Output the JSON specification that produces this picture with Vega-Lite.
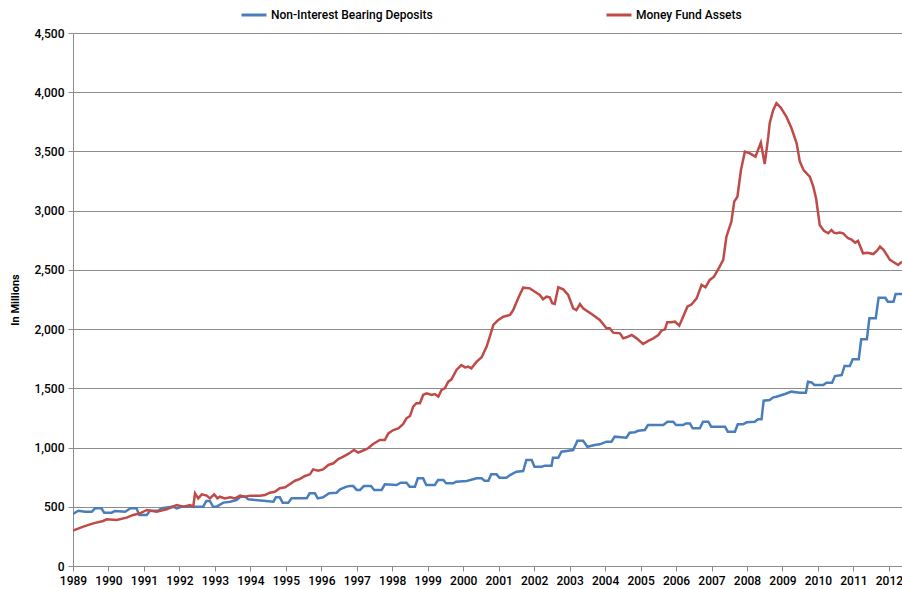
{
 "$schema": "https://vega.github.io/schema/vega-lite/v6.json",
 "width": 829, "height": 533,
 "autosize": {"type": "none"},
 "padding": {"left": 73, "top": 33, "right": 0, "bottom": 23},
 "background": "white",
 "config": {"view": {"stroke": null}},
 "datasets": {
  "deposits": [
   {"t":1989.00,"v":439},{"t":1989.15,"v":467},{"t":1989.34,"v":458},{"t":1989.53,"v":458},{"t":1989.62,"v":487},{"t":1989.80,"v":487},{"t":1989.88,"v":450},{"t":1990.09,"v":450},{"t":1990.18,"v":464},{"t":1990.47,"v":458},{"t":1990.62,"v":487},{"t":1990.79,"v":487},{"t":1990.87,"v":431},{"t":1991.08,"v":431},{"t":1991.17,"v":467},{"t":1991.40,"v":467},{"t":1991.50,"v":487},{"t":1991.83,"v":501},{"t":1991.92,"v":487},{"t":1992.08,"v":501},{"t":1992.67,"v":501},{"t":1992.76,"v":549},{"t":1992.86,"v":549},{"t":1992.95,"v":500},{"t":1993.05,"v":501},{"t":1993.24,"v":535},{"t":1993.43,"v":543},{"t":1993.61,"v":557},{"t":1993.72,"v":585},{"t":1993.86,"v":585},{"t":1993.94,"v":563},{"t":1994.13,"v":557},{"t":1994.36,"v":551},{"t":1994.65,"v":543},{"t":1994.72,"v":580},{"t":1994.83,"v":580},{"t":1994.91,"v":535},{"t":1995.07,"v":535},{"t":1995.16,"v":571},{"t":1995.59,"v":571},{"t":1995.67,"v":614},{"t":1995.82,"v":614},{"t":1995.90,"v":571},{"t":1996.05,"v":580},{"t":1996.22,"v":614},{"t":1996.43,"v":619},{"t":1996.53,"v":647},{"t":1996.71,"v":670},{"t":1996.81,"v":675},{"t":1996.90,"v":675},{"t":1997.00,"v":642},{"t":1997.09,"v":642},{"t":1997.20,"v":675},{"t":1997.40,"v":675},{"t":1997.49,"v":642},{"t":1997.70,"v":642},{"t":1997.79,"v":690},{"t":1998.12,"v":684},{"t":1998.24,"v":703},{"t":1998.40,"v":703},{"t":1998.49,"v":670},{"t":1998.64,"v":670},{"t":1998.72,"v":740},{"t":1998.87,"v":740},{"t":1998.96,"v":684},{"t":1999.20,"v":684},{"t":1999.29,"v":726},{"t":1999.44,"v":726},{"t":1999.52,"v":698},{"t":1999.72,"v":698},{"t":1999.80,"v":712},{"t":2000.10,"v":718},{"t":2000.38,"v":740},{"t":2000.52,"v":740},{"t":2000.60,"v":720},{"t":2000.71,"v":720},{"t":2000.79,"v":774},{"t":2000.94,"v":774},{"t":2001.02,"v":746},{"t":2001.22,"v":746},{"t":2001.32,"v":768},{"t":2001.50,"v":796},{"t":2001.69,"v":802},{"t":2001.78,"v":895},{"t":2001.93,"v":895},{"t":2002.01,"v":838},{"t":2002.21,"v":838},{"t":2002.30,"v":847},{"t":2002.49,"v":847},{"t":2002.53,"v":914},{"t":2002.68,"v":914},{"t":2002.77,"v":965},{"t":2003.10,"v":979},{"t":2003.22,"v":1058},{"t":2003.38,"v":1058},{"t":2003.50,"v":1007},{"t":2003.71,"v":1022},{"t":2003.85,"v":1027},{"t":2004.04,"v":1050},{"t":2004.18,"v":1050},{"t":2004.27,"v":1092},{"t":2004.60,"v":1083},{"t":2004.69,"v":1125},{"t":2004.84,"v":1130},{"t":2004.93,"v":1142},{"t":2005.12,"v":1148},{"t":2005.21,"v":1190},{"t":2005.64,"v":1190},{"t":2005.76,"v":1218},{"t":2005.92,"v":1218},{"t":2006.00,"v":1190},{"t":2006.20,"v":1190},{"t":2006.28,"v":1204},{"t":2006.39,"v":1204},{"t":2006.47,"v":1162},{"t":2006.67,"v":1162},{"t":2006.76,"v":1218},{"t":2006.91,"v":1218},{"t":2006.99,"v":1176},{"t":2007.38,"v":1176},{"t":2007.46,"v":1134},{"t":2007.66,"v":1134},{"t":2007.74,"v":1196},{"t":2007.89,"v":1196},{"t":2007.99,"v":1213},{"t":2008.22,"v":1218},{"t":2008.31,"v":1238},{"t":2008.41,"v":1238},{"t":2008.47,"v":1396},{"t":2008.64,"v":1401},{"t":2008.74,"v":1424},{"t":2008.83,"v":1429},{"t":2009.07,"v":1452},{"t":2009.25,"v":1472},{"t":2009.49,"v":1463},{"t":2009.66,"v":1463},{"t":2009.72,"v":1556},{"t":2009.82,"v":1550},{"t":2009.90,"v":1528},{"t":2010.15,"v":1528},{"t":2010.24,"v":1548},{"t":2010.40,"v":1548},{"t":2010.48,"v":1604},{"t":2010.67,"v":1612},{"t":2010.75,"v":1689},{"t":2010.90,"v":1689},{"t":2010.98,"v":1745},{"t":2011.15,"v":1745},{"t":2011.22,"v":1914},{"t":2011.38,"v":1914},{"t":2011.45,"v":2091},{"t":2011.63,"v":2091},{"t":2011.71,"v":2265},{"t":2011.90,"v":2265},{"t":2011.97,"v":2231},{"t":2012.13,"v":2231},{"t":2012.19,"v":2296},{"t":2012.37,"v":2296}
  ],
  "money": [
   {"t":1989.00,"v":300},{"t":1989.29,"v":332},{"t":1989.57,"v":360},{"t":1989.85,"v":380},{"t":1989.95,"v":394},{"t":1990.23,"v":388},{"t":1990.51,"v":408},{"t":1990.70,"v":431},{"t":1990.89,"v":445},{"t":1991.08,"v":473},{"t":1991.36,"v":458},{"t":1991.64,"v":478},{"t":1991.92,"v":515},{"t":1992.11,"v":501},{"t":1992.30,"v":515},{"t":1992.39,"v":501},{"t":1992.44,"v":614},{"t":1992.53,"v":571},{"t":1992.63,"v":605},{"t":1992.77,"v":594},{"t":1992.86,"v":571},{"t":1992.98,"v":605},{"t":1993.07,"v":571},{"t":1993.14,"v":585},{"t":1993.28,"v":571},{"t":1993.43,"v":580},{"t":1993.57,"v":571},{"t":1993.71,"v":594},{"t":1993.85,"v":585},{"t":1993.99,"v":594},{"t":1994.13,"v":594},{"t":1994.27,"v":594},{"t":1994.41,"v":599},{"t":1994.55,"v":619},{"t":1994.69,"v":627},{"t":1994.83,"v":656},{"t":1994.98,"v":664},{"t":1995.12,"v":692},{"t":1995.26,"v":720},{"t":1995.40,"v":735},{"t":1995.54,"v":760},{"t":1995.68,"v":774},{"t":1995.77,"v":816},{"t":1995.91,"v":805},{"t":1996.05,"v":816},{"t":1996.20,"v":853},{"t":1996.34,"v":867},{"t":1996.48,"v":903},{"t":1996.62,"v":923},{"t":1996.76,"v":946},{"t":1996.92,"v":979},{"t":1997.04,"v":957},{"t":1997.18,"v":975},{"t":1997.32,"v":994},{"t":1997.46,"v":1030},{"t":1997.65,"v":1064},{"t":1997.79,"v":1064},{"t":1997.89,"v":1120},{"t":1998.03,"v":1148},{"t":1998.17,"v":1162},{"t":1998.31,"v":1199},{"t":1998.40,"v":1247},{"t":1998.50,"v":1266},{"t":1998.59,"v":1345},{"t":1998.68,"v":1374},{"t":1998.78,"v":1374},{"t":1998.87,"v":1444},{"t":1998.97,"v":1458},{"t":1999.11,"v":1444},{"t":1999.20,"v":1452},{"t":1999.30,"v":1430},{"t":1999.39,"v":1486},{"t":1999.48,"v":1500},{"t":1999.58,"v":1556},{"t":1999.67,"v":1576},{"t":1999.81,"v":1655},{"t":1999.95,"v":1697},{"t":2000.05,"v":1677},{"t":2000.14,"v":1683},{"t":2000.23,"v":1669},{"t":2000.38,"v":1725},{"t":2000.52,"v":1762},{"t":2000.66,"v":1852},{"t":2000.75,"v":1936},{"t":2000.85,"v":2035},{"t":2000.99,"v":2077},{"t":2001.13,"v":2105},{"t":2001.32,"v":2119},{"t":2001.41,"v":2161},{"t":2001.55,"v":2260},{"t":2001.69,"v":2350},{"t":2001.88,"v":2344},{"t":2002.02,"v":2316},{"t":2002.16,"v":2288},{"t":2002.25,"v":2252},{"t":2002.35,"v":2274},{"t":2002.44,"v":2268},{"t":2002.51,"v":2218},{"t":2002.58,"v":2212},{"t":2002.68,"v":2353},{"t":2002.82,"v":2336},{"t":2002.96,"v":2288},{"t":2003.10,"v":2176},{"t":2003.19,"v":2161},{"t":2003.29,"v":2212},{"t":2003.38,"v":2176},{"t":2003.66,"v":2119},{"t":2003.85,"v":2077},{"t":2004.04,"v":2007},{"t":2004.13,"v":2007},{"t":2004.23,"v":1970},{"t":2004.42,"v":1964},{"t":2004.51,"v":1922},{"t":2004.60,"v":1931},{"t":2004.75,"v":1950},{"t":2004.89,"v":1922},{"t":2005.07,"v":1874},{"t":2005.22,"v":1900},{"t":2005.36,"v":1922},{"t":2005.50,"v":1950},{"t":2005.59,"v":1987},{"t":2005.69,"v":1998},{"t":2005.75,"v":2058},{"t":2005.86,"v":2058},{"t":2005.97,"v":2063},{"t":2006.09,"v":2029},{"t":2006.20,"v":2105},{"t":2006.32,"v":2189},{"t":2006.44,"v":2209},{"t":2006.58,"v":2260},{"t":2006.72,"v":2373},{"t":2006.83,"v":2353},{"t":2006.95,"v":2415},{"t":2007.07,"v":2443},{"t":2007.23,"v":2527},{"t":2007.33,"v":2584},{"t":2007.42,"v":2780},{"t":2007.56,"v":2907},{"t":2007.64,"v":3076},{"t":2007.73,"v":3118},{"t":2007.83,"v":3343},{"t":2007.94,"v":3498},{"t":2008.08,"v":3484},{"t":2008.24,"v":3456},{"t":2008.39,"v":3574},{"t":2008.50,"v":3394},{"t":2008.60,"v":3625},{"t":2008.64,"v":3738},{"t":2008.74,"v":3850},{"t":2008.83,"v":3907},{"t":2008.95,"v":3870},{"t":2009.11,"v":3794},{"t":2009.25,"v":3700},{"t":2009.40,"v":3569},{"t":2009.49,"v":3414},{"t":2009.60,"v":3340},{"t":2009.77,"v":3287},{"t":2009.87,"v":3203},{"t":2009.95,"v":3100},{"t":2010.05,"v":2879},{"t":2010.17,"v":2830},{"t":2010.29,"v":2809},{"t":2010.38,"v":2837},{"t":2010.45,"v":2815},{"t":2010.52,"v":2809},{"t":2010.62,"v":2815},{"t":2010.71,"v":2809},{"t":2010.85,"v":2767},{"t":2010.95,"v":2755},{"t":2011.05,"v":2730},{"t":2011.13,"v":2745},{"t":2011.27,"v":2640},{"t":2011.40,"v":2645},{"t":2011.56,"v":2634},{"t":2011.66,"v":2660},{"t":2011.75,"v":2696},{"t":2011.85,"v":2670},{"t":2012.03,"v":2584},{"t":2012.14,"v":2565},{"t":2012.26,"v":2541},{"t":2012.37,"v":2569}
  ]
 },
 "encoding": {
  "x": {"field": "t", "type": "quantitative",
   "scale": {"domain": [1989, 2012.37], "nice": false, "zero": false},
   "axis": {"title": null, "values": [1989,1990,1991,1992,1993,1994,1995,1996,1997,1998,1999,2000,2001,2002,2003,2004,2005,2006,2007,2008,2009,2010,2011,2012],
    "format": "d", "grid": false, "labelFlush": false, "labelOverlap": false, "domainColor": "#8c8c8c", "tickColor": "#8c8c8c", "tickSize": 5,
    "labelPadding": 4, "labelFont": "Roboto", "labelFontSize": 12, "labelFontWeight": 500, "labelColor": "#000"}},
  "y": {"field": "v", "type": "quantitative",
   "scale": {"domain": [0, 4500], "nice": false},
   "axis": {"title": "In Millions", "values": [0,500,1000,1500,2000,2500,3000,3500,4000,4500], "format": ",.0f",
    "grid": true, "gridColor": "#8c8c8c", "domainColor": "#8c8c8c", "tickColor": "#8c8c8c", "tickSize": 5,
    "labelPadding": 4, "labelFont": "Roboto", "labelFontSize": 12, "labelFontWeight": 500, "labelColor": "#000",
    "titleFont": "Roboto", "titleFontSize": 11, "titleFontWeight": "bold", "titleColor": "#000", "titlePadding": 14}},
  "color": {"type": "nominal",
   "scale": {"domain": ["Non-Interest Bearing Deposits", "Money Fund Assets"], "range": ["#4A7EBB", "#BE4B48"]},
   "legend": {"orient": "none", "legendX": 167, "legendY": -32, "direction": "horizontal", "title": null,
    "symbolType": "stroke", "symbolSize": 625, "symbolStrokeWidth": 3, "labelOffset": 3, "labelLimit": 400,
    "labelFont": "Roboto", "labelFontSize": 12, "labelFontWeight": 500, "labelColor": "#000", "columnPadding": 167}}
 },
 "layer": [
  {"data": {"name": "deposits"}, "mark": {"type": "line", "strokeWidth": 2.5, "clip": true},
   "encoding": {"color": {"datum": "Non-Interest Bearing Deposits"}}},
  {"data": {"name": "money"}, "mark": {"type": "line", "strokeWidth": 2.5, "clip": true},
   "encoding": {"color": {"datum": "Money Fund Assets"}}}
 ]
}
